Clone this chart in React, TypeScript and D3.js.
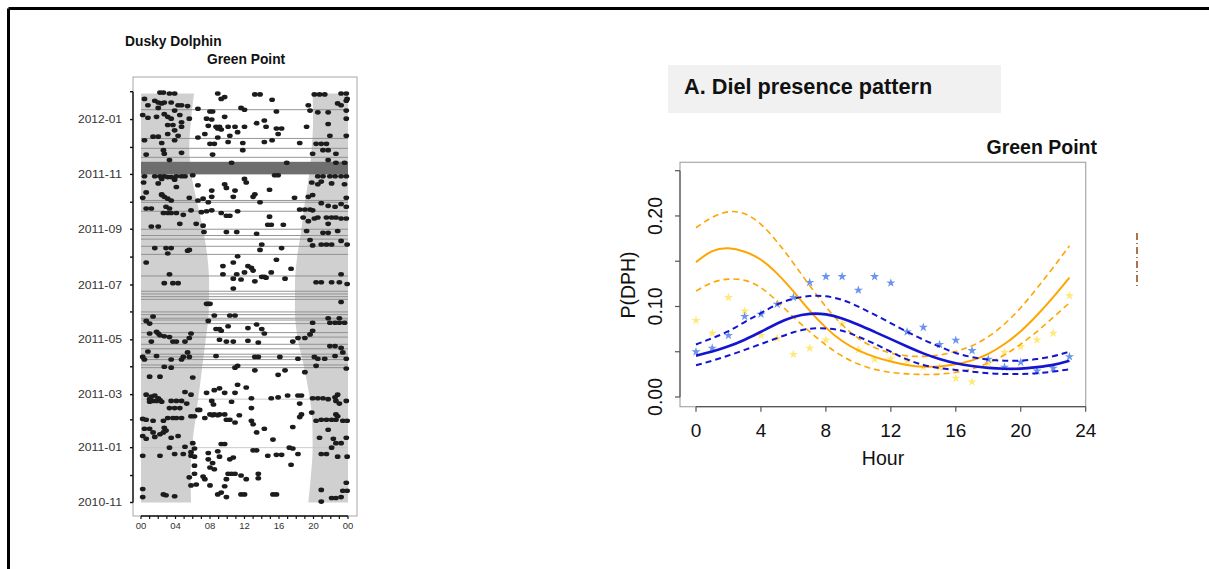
import React from "react";
import * as d3 from "d3";

// ---- left panel: detections of dusky dolphin at Green Point ----
const surveyStart = "2010-11-01";
const surveyEnd = "2012-02-01";

// [days since 2010-11-01, hour of day]
const detections: [number, number][] = [
  [456,2.2],[456,2.6],[455,3.3],[455,3.9],[455,8.9],[451,9.7],[449,9.3],[454,13.2],[454,13.8],[448,15.2],[454,20.1],[454,20.7],[454,21.3],[455,23.2],[455,23.8],
  [449,0.4],[447,1.6],[445,2.0],[444,2.4],[445,2.7],[442,0.8],[439,2.0],[445,3.5],[442,4.3],[442,4.7],[441,5.4],[436,3.9],[431,0.2],[428,0.8],[429,1.8],[432,2.7],[429,3.1],[427,3.5],[431,4.5],[423,4.7],[427,5.6],[438,6.6],[435,8.0],[435,8.3],[439,11.6],[437,12.0],[435,15.7],[442,19.4],[436,19.6],[434,20.5],[434,21.7],[444,22.8],[442,23.2],[447,23.8],[449,23.9],[436,23.8],[427,23.8],
  [427,7.6],[426,8.2],[429,9.7],[419,7.8],[418,8.7],[416,8.9],[415,9.3],[418,9.1],[418,10.1],[418,10.9],[418,12.0],[422,13.4],[425,14.3],[418,14.5],[416,15.7],[416,16.3],[410,15.9],[412,11.2],[408,10.3],[406,8.9],[410,7.4],[406,6.6],[399,8.0],[399,8.5],[401,10.1],[400,11.8],[401,14.3],[403,15.2],[400,18.4],[418,19.2],[421,21.7],[408,21.9],[408,23.8],[399,20.3],[399,20.9],[399,21.5],
  [420,3.1],[420,3.7],[414,3.9],[418,4.7],[408,4.3],[410,3.1],[407,1.4],[407,2.0],[403,0.4],[400,2.4],[403,3.9],[392,2.6],[388,2.7],[389,4.7],[387,0.6],[381,3.3],[392,11.8],[387,8.3],[392,21.1],[392,21.7],[388,19.9],[388,22.6],[381,21.7],[378,22.6],[378,23.6],
  [378,10.5],[378,16.9],
  [363,0.4],[363,1.6],[363,2.2],[363,2.7],[362,3.1],[362,3.5],[363,4.1],[363,4.7],[363,5.1],[364,6.0],[364,15.5],[364,15.9],[356,19.8],[363,20.5],[363,21.1],[363,21.9],[363,22.5],[363,23.2],[363,23.8],[360,2.4],[359,3.9],
  [356,0.3],[355,2.0],[351,4.1],[353,6.6],[347,8.2],[354,9.7],[350,9.9],[347,10.9],[360,12.0],[356,12.2],[343,13.2],[348,14.9],[354,20.5],[357,20.9],[355,22.1],[354,23.6],[345,0.6],[343,2.4],
  [339,0.2],[342,2.4],[340,2.7],[338,3.1],[336,3.5],[339,5.6],[336,6.6],[338,7.2],[334,7.8],[340,8.2],[340,10.7],[340,13.0],[334,13.8],[339,17.8],[340,19.4],[342,19.9],[333,20.9],[330,21.7],[329,22.5],[332,23.2],[339,23.8],[329,23.8],
  [327,0.6],[327,1.2],[329,2.9],[327,3.3],[322,2.6],[322,3.1],[322,3.5],[322,4.1],[320,4.9],[325,5.8],[323,7.0],[324,7.6],[325,8.2],[322,9.3],[319,9.9],[319,10.3],[324,11.2],[318,14.9],[326,18.4],[326,19.0],[326,19.6],[325,19.9],[317,18.8],[313,19.4],[316,20.1],[317,20.5],[317,21.5],[317,22.1],[317,22.6],[316,23.2],[316,23.8],
  [307,1.2],[307,2.0],[310,4.5],[310,6.4],[308,7.2],[309,14.7],[309,15.1],[309,16.5],[310,21.7],
  [301,7.3],[301,9.9],[301,11.1],[299,13.4],[302,19.2],[300,21.1],[300,21.7],[302,22.8],
  [283,1.6],[283,2.9],[283,3.5],[277,3.1],[280,5.4],[281,5.6],[287,14.0],[281,13.8],[283,16.3],[292,19.6],[286,19.9],[287,20.9],[287,21.5],[287,22.1],[291,23.2],[287,23.9],
  [267,0.6],[274,11.2],[267,10.7],[270,15.7],[263,9.5],[263,12.4],[261,12.8],[258,13.0],[256,12.0],[254,11.1],[254,9.5],[254,3.3],[251,14.0],[251,14.3],[250,14.5],[256,15.1],[260,17.4],[249,10.7],[248,11.6],[246,13.2],[249,16.7],[244,2.7],[244,3.7],[244,4.3],[238,10.7],[245,20.3],[245,20.9],[245,22.1],[245,23.0],[254,23.2],[243,23.9],
  [221,7.8],[223,23.2],
  [221,7.6],[221,8.0],
  [207,1.4],[202,0.6],[199,1.0],[202,7.8],[208,8.5],[208,10.3],[208,10.9],[196,10.1],[194,12.4],[198,13.4],[193,14.0],[188,14.3],[193,8.7],[193,9.1],[191,9.3],[205,21.7],[205,23.0],[200,21.9],[200,22.5],[200,23.0],[200,23.6],[200,19.9],
  [190,1.8],[188,2.0],[186,2.2],[188,1.0],[185,2.7],[184,3.3],[179,1.2],[179,3.7],[179,4.1],[179,5.1],[183,5.6],[188,5.8],[181,9.1],[179,9.9],[179,10.7],[180,12.4],[178,13.6],[179,17.6],[183,18.2],[183,19.0],[187,19.6],[191,19.9],[174,21.9],[174,22.5],[172,23.2],
  [162,0.2],[168,0.8],[163,1.8],[159,0.4],[159,3.5],[162,4.9],[159,4.7],[167,5.4],[162,5.6],[163,8.7],[162,13.2],[162,13.6],[162,16.1],[160,18.2],[162,20.1],[160,20.5],[160,21.3],[163,22.5],[167,23.4],[160,23.8],[151,2.7],[150,3.5],[150,10.9],[152,11.2],[147,13.2],[147,16.7],[142,15.9],[145,19.0],[152,20.3],[149,23.8],
  [140,1.0],[140,2.2],[139,6.0],[122,7.6],[125,8.5],[127,9.1],[122,9.7],[122,10.9],[131,11.2],[128,12.2],
  [120,0.6],[115,1.0],[118,1.2],[119,1.6],[116,2.0],[113,1.4],[113,1.8],[114,2.2],[112,2.4],[112,1.0],
  [113,3.5],[113,4.1],[113,4.7],[123,5.1],[120,5.8],[110,5.3],[103,6.6],[113,8.2],[109,8.4],[112,10.5],[116,12.8],[116,15.1],[117,15.9],[119,17.0],[119,18.2],[119,18.6],[116,19.9],[116,20.5],[116,21.1],[115,21.7],[117,22.5],[120,22.8],[113,22.6],[110,23.0],[113,23.8],[110,18.4],[105,12.8],
  [105,3.3],[105,3.9],[105,4.5],[103,6.8],[98,8.0],[98,8.5],[98,9.1],[98,9.7],[98,18.6],[100,19.8],[98,22.6],
  [93,0.2],[92,0.6],[91,1.4],[91,2.6],[94,3.1],[94,3.7],[94,4.1],[94,4.7],[96,5.8],[96,6.2],[94,7.4],[97,8.3],[97,8.9],[92,9.9],[92,10.3],[89,10.9],[97,11.4],[91,12.8],[87,13.0],[84,17.6],[95,18.4],[91,20.3],[92,20.9],[92,21.5],[92,22.1],[92,22.6],[96,22.8],[91,23.4],[91,23.9],
  [82,0.4],[82,1.0],[78,1.4],[76,2.2],[78,2.6],[80,2.9],[83,2.7],[74,0.2],[71,0.6],[73,1.6],[72,3.5],[74,4.3],[78,13.4],[82,14.3],[70,15.3],[81,21.7],[72,20.7],[71,22.3],[66,22.6],[66,23.2],[72,23.8],
  [61,3.3],[62,5.1],[66,6.0],[60,6.2],[56,5.8],[65,9.3],[65,9.7],[57,8.9],[58,13.0],[58,13.4],[61,17.2],[60,17.6],[54,18.2],[52,0.2],[52,2.2],[54,3.9],[54,4.9],[52,5.8],[51,6.2],[55,7.8],[48,7.8],[51,9.1],[50,10.7],[48,10.3],[52,14.7],[53,15.7],[53,16.3],[54,20.9],[54,21.5],[61,22.1],[51,22.8],[51,23.9],
  [41,6.2],[39,8.0],[44,8.3],[37,8.5],[42,17.4],[32,6.2],[28,5.6],[29,7.2],[26,7.4],[32,10.1],[32,10.5],[32,10.9],[30,11.6],[26,9.9],[26,12.2],[32,13.6],[27,13.6],
  [19,5.8],[20,6.4],[19,8.0],[18,9.7],[9,8.9],[11,9.3],[6,9.9],[9,11.6],[9,12.0],[9,15.3],[9,15.7],[15,0.2],[6,0.2],[9,2.6],[8,2.9],[7,3.9],[14,20.9],[5,22.1],[5,22.6],[1,20.9],[13,23.4],[13,23.9],[22,23.8],[6,23.2],
];

// monthly sunrise / sunset (hours)
const sunDates = ["2010-11-01","2010-12-01","2011-01-01","2011-02-01","2011-03-01","2011-04-01","2011-05-01","2011-06-01","2011-07-01","2011-08-01","2011-09-01","2011-10-01","2011-11-01","2011-12-01","2012-01-01","2012-01-30"];
const sunrise = [5.8, 5.75, 5.9, 6.3, 6.7, 7.1, 7.5, 7.85, 7.9, 7.7, 7.2, 6.5, 5.85, 5.6, 5.8, 6.15];
const sunset = [19.4, 19.7, 19.9, 19.85, 19.5, 18.9, 18.2, 17.85, 17.85, 18.1, 18.6, 19.0, 19.5, 19.8, 19.95, 19.9];

// days with no recording (thin lines), faint ones, and the long gap
const offDays = [437, 405, 394, 384, 336, 334, 324, 304, 297, 293, 285, 276, 252, 235, 232, 229, 226, 212, 209, 205, 203, 199, 189, 184, 176, 171, 165, 162, 159, 153, 150];
const faintOffDays = [115, 61];
const gapDays = [365, 379];

const clockTicks = d3.range(0, 25);
const clockLabels = ["00", "04", "08", "12", "16", "20", "00"];

// ---- right panel: diel presence pattern ----
const hours = [0,1,2,3,4,5,6,7,8,9,10,11,12,13,14,15,16,17,18,19,20,21,22,23];
const orangeFit = [0.149,0.163,0.1656,0.161,0.153,0.137,0.117,0.095,0.076,0.061,0.051,0.044,0.039,0.035,0.033,0.0335,0.036,0.040,0.047,0.058,0.072,0.090,0.110,0.132];
const orangeUpper = [0.187,0.1995,0.206,0.204,0.192,0.172,0.148,0.123,0.099,0.079,0.064,0.054,0.048,0.045,0.0446,0.046,0.050,0.056,0.066,0.080,0.098,0.120,0.143,0.167];
const orangeLower = [0.117,0.1276,0.131,0.130,0.122,0.106,0.088,0.072,0.057,0.0446,0.036,0.030,0.027,0.0254,0.0247,0.025,0.027,0.031,0.037,0.046,0.058,0.072,0.088,0.104];
const blueFit = [0.0457,0.050,0.0557,0.063,0.072,0.0815,0.089,0.0925,0.092,0.087,0.080,0.072,0.064,0.0557,0.048,0.0417,0.037,0.034,0.032,0.031,0.031,0.033,0.035,0.040];
const blueUpper = [0.058,0.065,0.072,0.083,0.0926,0.103,0.109,0.112,0.1118,0.108,0.100,0.091,0.0815,0.072,0.063,0.0557,0.048,0.0439,0.041,0.040,0.040,0.0417,0.0446,0.050];
const blueLower = [0.035,0.040,0.0457,0.052,0.0586,0.065,0.072,0.076,0.076,0.074,0.0667,0.059,0.050,0.041,0.035,0.0317,0.030,0.028,0.026,0.0254,0.0254,0.026,0.028,0.0306];
const blueObserved = [0.050,0.054,0.068,0.089,0.0915,0.1025,0.110,0.1265,0.133,0.133,0.118,0.133,0.126,0.072,0.077,0.058,0.0627,0.0513,0.0417,0.033,0.0384,0.0288,0.0317,0.0446];
const yellowObserved = [0.0845,0.0705,0.110,0.095,0.068,0.065,0.047,0.054,0.063,0.081,0.052,0.0417,0.042,0.040,0.033,0.0325,0.0207,0.0166,0.037,0.0494,0.0557,0.063,0.0705,0.112];
const hourTicks = [0, 4, 8, 12, 16, 20, 24];
const probTicks = [0, 0.05, 0.1, 0.15, 0.2, 0.25];
const probLabels = [0, 0.1, 0.2];

const FONT = "'Liberation Sans', Arial, sans-serif";

export default function App() {
  const parseDay = d3.timeParse("%Y-%m-%d");
  const start = parseDay(surveyStart) as Date;
  const end = parseDay(surveyEnd) as Date;
  const onDay = (n: number) => d3.timeDay.offset(start, n);

  const yDate = d3.scaleTime().domain([start, end]).range([502.5, 91.7]);
  const xClock = d3.scaleLinear().domain([0, 24]).range([141, 348]);
  const monthTicks = d3.timeMonth.range(start, d3.timeDay.offset(end, 1));
  const fmtMonth = d3.timeFormat("%Y-%m");

  const sunRows = sunDates.map((d, i) => ({ date: parseDay(d) as Date, rise: sunrise[i], set: sunset[i] }));
  const morning = d3.area<any>().curve(d3.curveMonotoneY)
    .y((d) => yDate(d.date)).x0(xClock(0)).x1((d) => xClock(d.rise));
  const evening = d3.area<any>().curve(d3.curveMonotoneY)
    .y((d) => yDate(d.date)).x0((d) => xClock(d.set)).x1(xClock(24));

  const xHr = d3.scaleLinear().domain([0, 24]).range([696, 1085.7]);
  const yP = d3.scaleLinear().domain([0, 0.25]).range([397, 170.7]);
  const curve = d3.line<number>().x((_, i) => xHr(hours[i])).y((d) => yP(d)).curve(d3.curveBasis);
  const star = d3.symbol().type(d3.symbolStar).size(26)() as string;

  return (
    <svg width={1209} height={569} style={{ position: "absolute", left: 0, top: 0, background: "#fff" }} fontFamily={FONT}>
      {/* page border */}
      <line x1={8.5} y1={8.5} x2={1209} y2={8.5} stroke="#000" strokeWidth={3} />
      <line x1={8.5} y1={8.5} x2={8.5} y2={569} stroke="#000" strokeWidth={3} />

      {/* ---------- left panel ---------- */}
      <text x={125} y={46} fontSize={13.8} fontWeight="bold" fill="#111">Dusky Dolphin</text>
      <text x={207} y={64} fontSize={13.8} fontWeight="bold" fill="#111">Green Point</text>

      <rect x={133} y={77} width={224} height={439} fill="none" stroke="#a8a8a8" strokeWidth={1} />
      <path d={morning(sunRows) as string} fill="#d0d0d0" />
      <path d={evening(sunRows) as string} fill="#d0d0d0" />

      {offDays.map((d, i) => (
        <line key={"o" + i} x1={xClock(0)} x2={xClock(24)} y1={yDate(onDay(d))} y2={yDate(onDay(d))} stroke="#8a8a8a" strokeWidth={0.9} />
      ))}
      {faintOffDays.map((d, i) => (
        <line key={"f" + i} x1={xClock(0)} x2={xClock(24)} y1={yDate(onDay(d))} y2={yDate(onDay(d))} stroke="#c4c4c4" strokeWidth={0.9} />
      ))}
      <rect x={xClock(0)} width={xClock(24) - xClock(0)} y={yDate(onDay(gapDays[1]))}
        height={yDate(onDay(gapDays[0])) - yDate(onDay(gapDays[1]))} fill="#6e6e6e" />

      {detections.map(([d, h], i) => (
        <ellipse key={"d" + i} cx={xClock(h)} cy={yDate(onDay(d))} rx={2.9} ry={2.3} fill="#1c1c1c" />
      ))}

      {/* y axis (months) */}
      <line x1={133} x2={133} y1={yDate(monthTicks[0])} y2={yDate(monthTicks[monthTicks.length - 1])} stroke="#111" strokeWidth={1.4} />
      {monthTicks.map((m, i) => (
        <g key={"m" + i}>
          <line x1={130} x2={133} y1={yDate(m)} y2={yDate(m)} stroke="#111" strokeWidth={1.4} />
          {m.getMonth() % 2 === 0 && (
            <text x={122} y={yDate(m)} dy="0.35em" textAnchor="end" fontSize={10.5} fill="#333" textLength={44} lengthAdjust="spacingAndGlyphs">{fmtMonth(m)}</text>
          )}
        </g>
      ))}

      {/* x axis (clock) */}
      <line x1={xClock(0)} x2={xClock(24)} y1={516} y2={516} stroke="#111" strokeWidth={1.4} />
      {clockTicks.map((h) => (
        <line key={"c" + h} x1={xClock(h)} x2={xClock(h)} y1={516} y2={519} stroke="#111" strokeWidth={1.2} />
      ))}
      {clockLabels.map((l, i) => (
        <text key={"cl" + i} x={xClock(i * 4)} y={526} dy="0.35em" textAnchor="middle" fontSize={9.5} fill="#333">{l}</text>
      ))}

      {/* ---------- right panel ---------- */}
      <rect x={668} y={65} width={333} height={48} fill="#f1f1f1" />
      <text x={684} y={94} fontSize={21.7} fontWeight="bold" fill="#111">A. Diel presence pattern</text>
      <text x={1097} y={154} textAnchor="end" fontSize={19.5} fontWeight="bold" fill="#111">Green Point</text>

      <rect x={680} y={162.3} width={405.7} height={244.4} fill="none" stroke="#a8a8a8" strokeWidth={1.2} />

      {hours.map((h, i) => (
        <path key={"ys" + i} d={star} transform={`translate(${xHr(h)},${yP(yellowObserved[i])})`} fill="#ffe97a" />
      ))}
      {hours.map((h, i) => (
        <path key={"bs" + i} d={star} transform={`translate(${xHr(h)},${yP(blueObserved[i])})`} fill="#6c94ec" />
      ))}

      <path d={curve(orangeUpper) as string} fill="none" stroke="#ffa500" strokeWidth={1.6} strokeDasharray="6,4" />
      <path d={curve(orangeLower) as string} fill="none" stroke="#ffa500" strokeWidth={1.6} strokeDasharray="6,4" />
      <path d={curve(orangeFit) as string} fill="none" stroke="#ffa500" strokeWidth={2} />
      <path d={curve(blueUpper) as string} fill="none" stroke="#1515d0" strokeWidth={2} strokeDasharray="6,4" />
      <path d={curve(blueLower) as string} fill="none" stroke="#1515d0" strokeWidth={2} strokeDasharray="6,4" />
      <path d={curve(blueFit) as string} fill="none" stroke="#1515d0" strokeWidth={2.6} />

      {/* clipped legend fragment */}
      <line x1={1137} x2={1137} y1={233} y2={289} stroke="#8b3a00" strokeWidth={1.4} strokeDasharray="7,3,1,3" />

      {/* axes */}
      <line x1={680} x2={680} y1={yP(0)} y2={yP(0.25)} stroke="#555" strokeWidth={1.2} />
      {probTicks.map((t, i) => (
        <line key={"pt" + i} x1={675} x2={680} y1={yP(t)} y2={yP(t)} stroke="#555" strokeWidth={1.2} />
      ))}
      {probLabels.map((t, i) => (
        <text key={"pl" + i} transform={`translate(655,${yP(t)}) rotate(-90)`} dy="0.35em" textAnchor="middle" fontSize={19.5} fill="#111">{t.toFixed(2)}</text>
      ))}
      <text transform="translate(628,285) rotate(-90)" dy="0.35em" textAnchor="middle" fontSize={19.5} fill="#111">P(DPH)</text>

      <line x1={xHr(0)} x2={xHr(24)} y1={406.7} y2={406.7} stroke="#555" strokeWidth={1.2} />
      {hourTicks.map((h) => (
        <g key={"ht" + h}>
          <line x1={xHr(h)} x2={xHr(h)} y1={406.7} y2={411.7} stroke="#555" strokeWidth={1.2} />
          <text x={xHr(h)} y={430} dy="0.35em" textAnchor="middle" fontSize={19} fill="#111">{h}</text>
        </g>
      ))}
      <text x={883} y={458} dy="0.35em" textAnchor="middle" fontSize={19.5} fill="#111">Hour</text>
    </svg>
  );
}
